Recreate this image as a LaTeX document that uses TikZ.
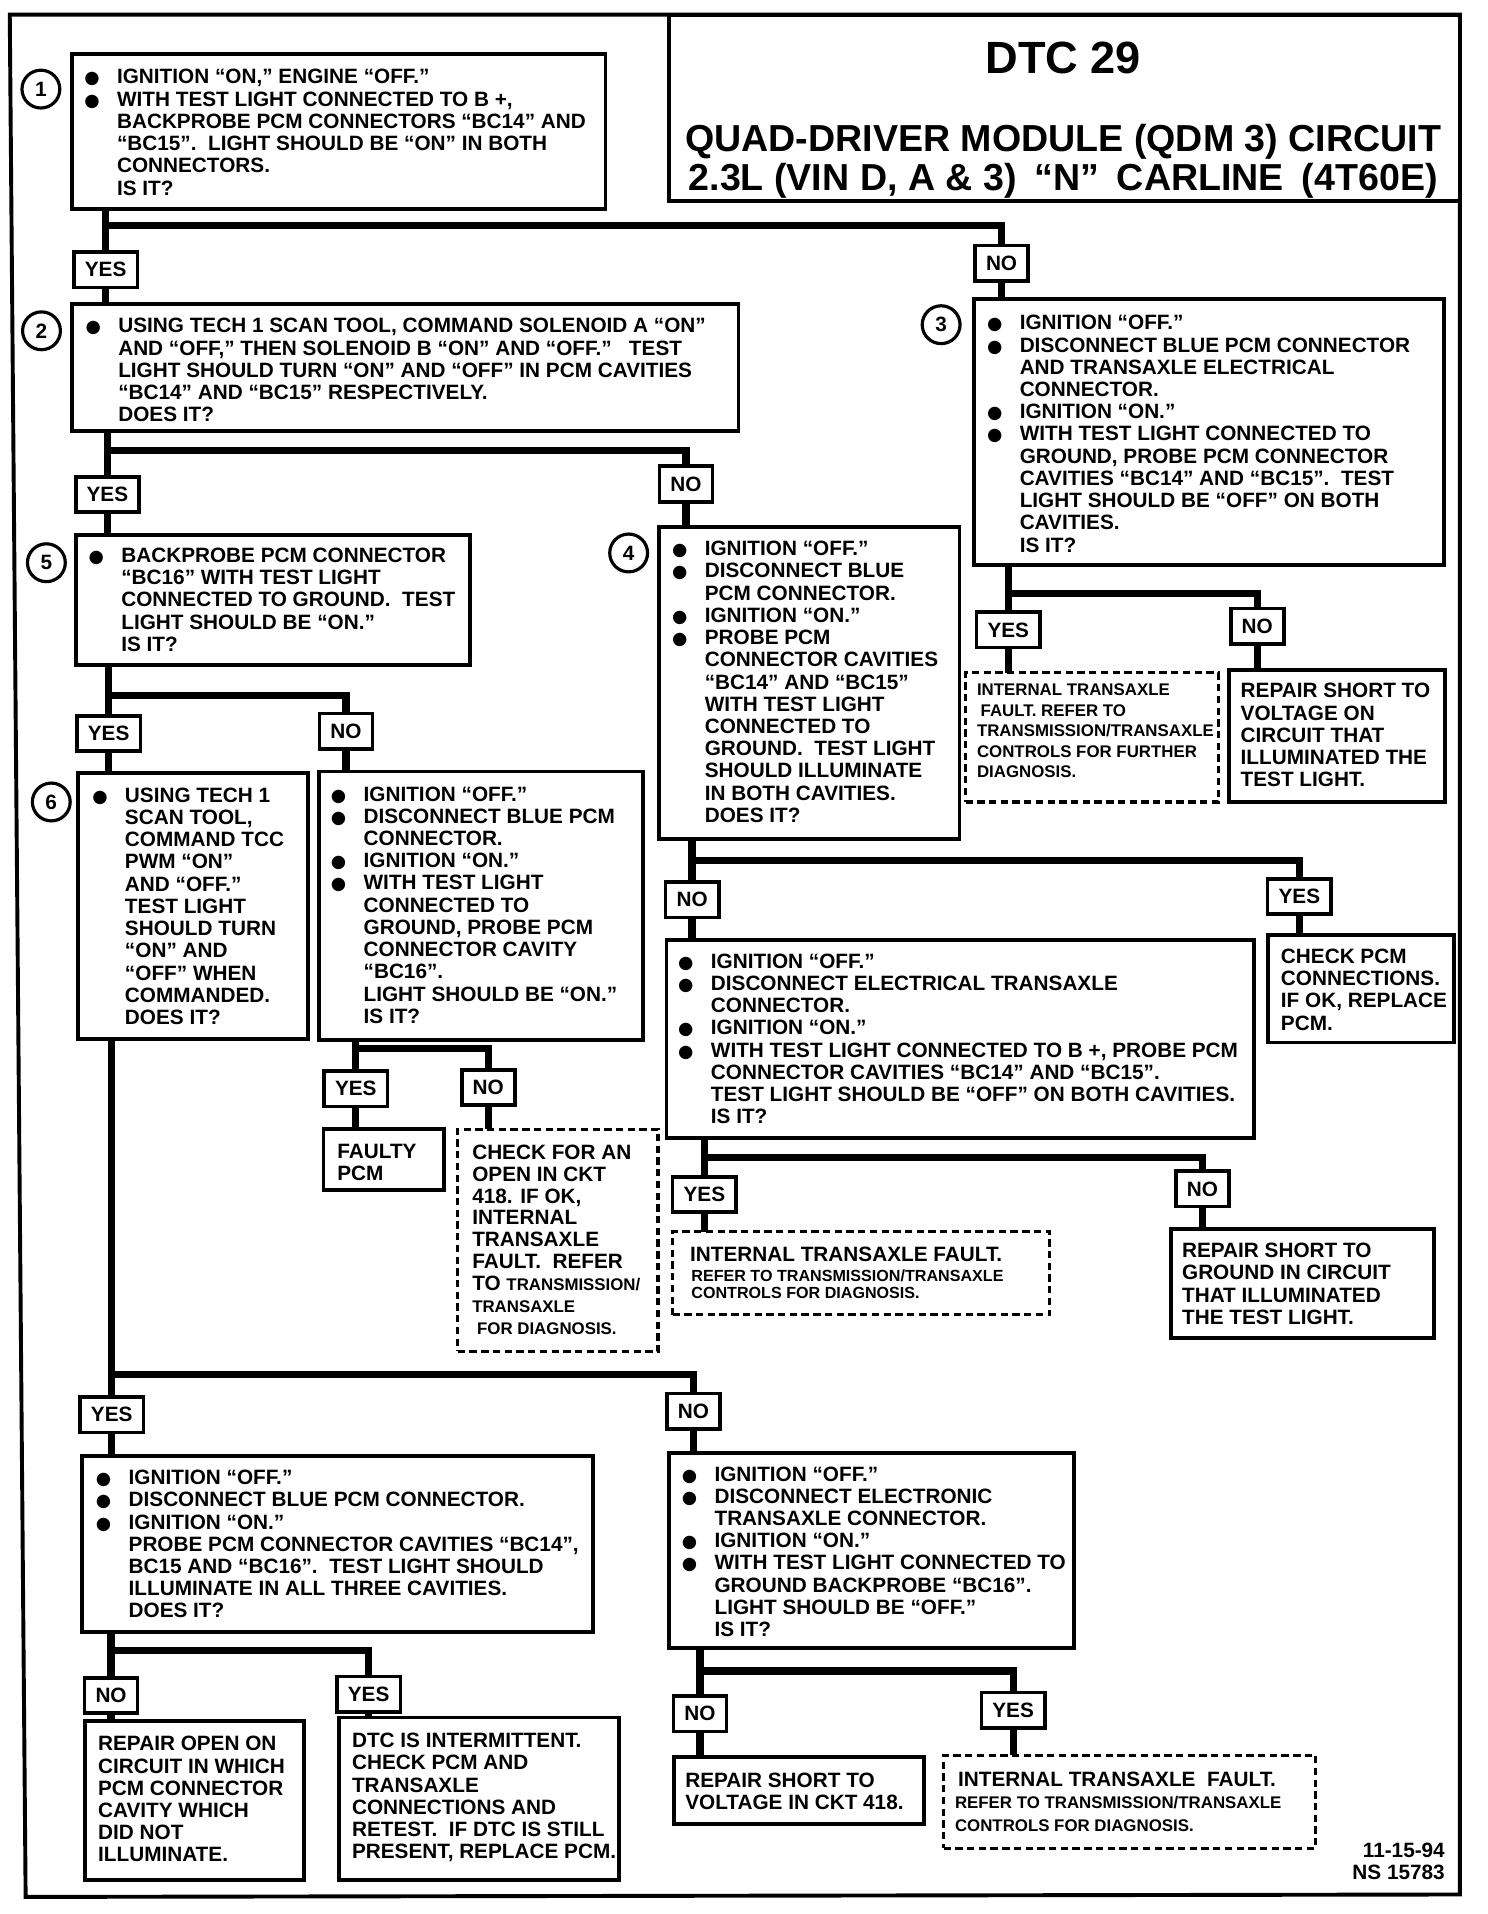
\documentclass[tikz,border=0pt]{standalone}
\usepackage{fontspec}
\setmainfont{Liberation Sans}
\newfontfamily\dejavu{DejaVu Sans}
\usetikzlibrary{calc}
\pgfdeclarelayer{bg}
\pgfsetlayers{bg,main}
\newcommand\mf{\fontsize{8.5}{9.1}\selectfont\bfseries}
\newcommand\smf{\fontsize{6.9}{8.4}\selectfont\bfseries}
\newcommand\bul{\makebox[14pt][l]{\hspace{0.6pt}{\dejavu\fontsize{7.2}{7.5}\selectfont ●}}}
\newcommand\cnt{\hspace*{14pt}}
\newcommand\mkbox[6][]{\node[boxst,#1,anchor=north west,minimum width={(#5-#3)*0.5pt},minimum height={(#6-#4)*0.5pt}] (#2) at (#3,#4) {};}
\newcommand\branch[7]{%
  \coordinate (#4) at (0,#7);
  \draw[conn] (#1.south -| #2) -- (#2.north);
  \draw[conn] (#2 |- #4) -| (#3.north);
  \draw[conn] (#2.south) -- (#2 |- #5.north);
  \draw[conn] (#3.south) -- (#3 |- #6.north);}
\tikzset{
 boxst/.style={draw, line width=1.6pt, fill=white, inner sep=0pt, outer sep=0pt},
 dbox/.style={dash pattern=on 3pt off 1.8pt, line width=1.3pt},
 lbl/.style={draw, line width=1.5pt, fill=white, font=\mf, inner xsep=4.5pt, inner ysep=0pt, minimum height=14.5pt, outer sep=0pt},
 num/.style={draw, circle, line width=1.3pt, minimum size=15.5pt, inner sep=0pt, fill=white, font=\fontsize{8.5}{9}\selectfont\bfseries},
 tx/.style={anchor=north west, inner sep=0pt, align=left, font=\mf},
 stx/.style={anchor=north west, inner sep=0pt, align=left, font=\smf},
 conn/.style={line width=3pt},
 frame/.style={line width=1.6pt, line join=miter},
}
\begin{document}
\begin{tikzpicture}[x=0.5pt,y=-0.5pt]
\begin{pgfonlayer}{bg}
\fill[white] (0,0) rectangle (1219,1568);
\end{pgfonlayer}
\useasboundingbox (0,0) rectangle (1219,1568);
\draw[frame] (8,12) -- (1196,12) -- (1196,1552) -- (21,1554) -- cycle;

% title
\mkbox{title}{548}{12}{1196}{165}
\node[font=\fontsize{18.5}{20}\selectfont\bfseries, anchor=base, inner sep=0pt] (tdtc) at (871,60) {DTC 29};
\node[font=\fontsize{15.4}{16}\selectfont\bfseries, anchor=base, inner sep=0pt] (tl1) at (871,124) {QUAD-DRIVER MODULE (QDM 3) CIRCUIT};
\node[font=\fontsize{15.4}{16}\selectfont\bfseries, anchor=base, inner sep=0pt] (tl2) at (871,156) {2.3L (VIN D, A \& 3)\hspace{3pt} “N”\hspace{3pt} CARLINE\hspace{3pt} (4T60E)};

% boxes
\mkbox{b1}{59}{44}{496}{171}
\mkbox{b2}{59}{249}{605}{353}
\mkbox{b3}{798}{245}{1183}{463}
\mkbox{b4}{540}{432}{786}{687}
\mkbox{b5}{62}{438}{385}{545}
\mkbox{b6}{64}{633}{252}{851}
\mkbox{b5n}{261}{632}{527}{852}
\mkbox{b7}{546}{770}{1027}{932}
\mkbox{b8}{67}{1193}{486}{1337}
\mkbox{b9}{548}{1190}{880}{1350}
\mkbox{fpcm}{265}{925}{364}{975}
\mkbox[dbox]{dck}{375}{925}{539}{1107}
\mkbox[dbox]{d3}{791}{551}{998}{657}
\mkbox{r3}{1007}{549}{1184}{657}
\mkbox{cpcm}{1039}{766}{1191}{854}
\mkbox[dbox]{d7}{551}{1009}{860}{1077}
\mkbox{r7}{959}{1007}{1175}{1096}
\mkbox{r8}{70}{1410}{249}{1540}
\mkbox{dtc}{278}{1407}{507}{1540}
\mkbox{r9}{552}{1439}{757}{1494}
\mkbox[dbox]{d9}{773}{1438}{1078}{1514}

% step numbers
\node[num] (c1) at (33.5,73) {1};
\node[num] (c2) at (34,271) {2};
\node[num] (c3) at (771,266) {3};
\node[num] (c4) at (515,453) {4};
\node[num] (c5) at (38,461) {5};
\node[num] (c6) at (42,657) {6};

% labels
\node[lbl] (yes1) at (86.5,221) {YES};
\node[lbl] (no1) at (820.5,215.5) {NO};
\node[lbl] (yes2) at (88,405) {YES};
\node[lbl] (no2) at (562,396.5) {NO};
\node[lbl] (yes3) at (826,516) {YES};
\node[lbl] (no3) at (1030,513) {NO};
\node[lbl] (yes5) at (89,601) {YES};
\node[lbl] (no5) at (283.5,599) {NO};
\node[lbl] (yes5n) at (291.5,892) {YES};
\node[lbl] (no5n) at (400,891) {NO};
\node[lbl] (no4) at (567,737) {NO};
\node[lbl] (yes4) at (1064.5,734.5) {YES};
\node[lbl] (yes7) at (577,978.5) {YES};
\node[lbl] (no7) at (985,974) {NO};
\node[lbl] (yes6) at (91.5,1159) {YES};
\node[lbl] (no6) at (568,1156) {NO};
\node[lbl] (no8) at (91,1389) {NO};
\node[lbl] (yes8) at (302,1388) {YES};
\node[lbl] (no9) at (573.5,1404) {NO};
\node[lbl] (yes9) at (830,1401) {YES};

% texts
\node[tx] (b1t) at (67.5,56.5) {\bul IGNITION “ON,” ENGINE “OFF.”\\
\bul WITH TEST LIGHT CONNECTED TO B +,\\
\cnt BACKPROBE PCM CONNECTORS “BC14” AND\\
\cnt “BC15”.\ \ LIGHT SHOULD BE “ON” IN BOTH\\
\cnt CONNECTORS.\\
\cnt IS IT?};
\node[tx] (b2t) at (68.5,260.5) {\bul USING TECH 1 SCAN TOOL, COMMAND SOLENOID A “ON”\\
\cnt AND “OFF,” THEN SOLENOID B “ON” AND “OFF.”\ \ \ TEST\\
\cnt LIGHT SHOULD TURN “ON” AND “OFF” IN PCM CAVITIES\\
\cnt “BC14” AND “BC15” RESPECTIVELY.\\
\cnt DOES IT?};
\node[tx] (b3t) at (807,258) {\bul IGNITION “OFF.”\\
\bul DISCONNECT BLUE PCM CONNECTOR\\
\cnt AND TRANSAXLE ELECTRICAL\\
\cnt CONNECTOR.\\
\bul IGNITION “ON.”\\
\bul WITH TEST LIGHT CONNECTED TO\\
\cnt GROUND, PROBE PCM CONNECTOR\\
\cnt CAVITIES “BC14” AND “BC15”.\ \ TEST\\
\cnt LIGHT SHOULD BE “OFF” ON BOTH\\
\cnt CAVITIES.\\
\cnt IS IT?};
\node[tx] (b4t) at (549,443) {\bul IGNITION “OFF.”\\
\bul DISCONNECT BLUE\\
\cnt PCM CONNECTOR.\\
\bul IGNITION “ON.”\\
\bul PROBE PCM\\
\cnt CONNECTOR CAVITIES\\
\cnt “BC14” AND “BC15”\\
\cnt WITH TEST LIGHT\\
\cnt CONNECTED TO\\
\cnt GROUND.\ \ TEST LIGHT\\
\cnt SHOULD ILLUMINATE\\
\cnt IN BOTH CAVITIES.\\
\cnt DOES IT?};
\node[tx] (b5t) at (71,448.5) {\bul BACKPROBE PCM CONNECTOR\\
\cnt “BC16” WITH TEST LIGHT\\
\cnt CONNECTED TO GROUND.\ \ TEST\\
\cnt LIGHT SHOULD BE “ON.”\\
\cnt IS IT?};
\node[tx] (b6t) at (74,645) {\bul USING TECH 1\\
\cnt SCAN TOOL,\\
\cnt COMMAND TCC\\
\cnt PWM “ON”\\
\cnt AND “OFF.”\\
\cnt TEST LIGHT\\
\cnt SHOULD TURN\\
\cnt “ON” AND\\
\cnt “OFF” WHEN\\
\cnt COMMANDED.\\
\cnt DOES IT?};
\node[tx] (b5nt) at (269.5,644) {\bul IGNITION “OFF.”\\
\bul DISCONNECT BLUE PCM\\
\cnt CONNECTOR.\\
\bul IGNITION “ON.”\\
\bul WITH TEST LIGHT\\
\cnt CONNECTED TO\\
\cnt GROUND, PROBE PCM\\
\cnt CONNECTOR CAVITY\\
\cnt “BC16”.\\
\cnt LIGHT SHOULD BE “ON.”\\
\cnt IS IT?};
\node[tx] (b7t) at (554,781) {\bul IGNITION “OFF.”\\
\bul DISCONNECT ELECTRICAL TRANSAXLE\\
\cnt CONNECTOR.\\
\bul IGNITION “ON.”\\
\bul WITH TEST LIGHT CONNECTED TO B +, PROBE PCM\\
\cnt CONNECTOR CAVITIES “BC14” AND “BC15”.\\
\cnt TEST LIGHT SHOULD BE “OFF” ON BOTH CAVITIES.\\
\cnt IS IT?};
\node[tx] (b8t) at (77,1204) {\bul IGNITION “OFF.”\\
\bul DISCONNECT BLUE PCM CONNECTOR.\\
\bul IGNITION “ON.”\\
\cnt PROBE PCM CONNECTOR CAVITIES “BC14”,\\
\cnt BC15 AND “BC16”.\ \ TEST LIGHT SHOULD\\
\cnt ILLUMINATE IN ALL THREE CAVITIES.\\
\cnt DOES IT?};
\node[tx] (b9t) at (557,1201) {\bul IGNITION “OFF.”\\
\bul DISCONNECT ELECTRONIC\\
\cnt TRANSAXLE CONNECTOR.\\
\bul IGNITION “ON.”\\
\bul WITH TEST LIGHT CONNECTED TO\\
\cnt GROUND BACKPROBE “BC16”.\\
\cnt LIGHT SHOULD BE “OFF.”\\
\cnt IS IT?};
\node[tx] (fpcmt) at (276,937) {FAULTY\\PCM};
\node[tx, font=\fontsize{8.5}{8.95}\selectfont\bfseries] (dckt) at (386.5,937.5) {CHECK FOR AN\\
OPEN IN CKT\\
418. IF OK,\\
INTERNAL\\
TRANSAXLE\\
FAULT.\ \ REFER\\
TO {\smf TRANSMISSION/}\\
{\smf TRANSAXLE}\\
{\smf\hspace*{2pt}FOR DIAGNOSIS.}};
\node[tx] (r3t) at (1016,559.5) {REPAIR SHORT TO\\VOLTAGE ON\\CIRCUIT THAT\\ILLUMINATED THE\\TEST LIGHT.};
\node[stx] (d3t) at (800,560) {INTERNAL TRANSAXLE\\
\hspace*{1.5pt}FAULT. REFER TO\\
TRANSMISSION/TRANSAXLE\\
CONTROLS FOR FURTHER\\
DIAGNOSIS.};
\node[tx] (cpcmt) at (1049,777) {CHECK PCM\\CONNECTIONS.\\IF OK, REPLACE\\PCM.};
\node[tx] (r7t) at (968,1018) {REPAIR SHORT TO\\GROUND IN CIRCUIT\\THAT ILLUMINATED\\THE TEST LIGHT.};
\node[tx] (d7a) at (565,1021) {INTERNAL TRANSAXLE FAULT.};
\node[stx, font=\fontsize{6.6}{7.3}\selectfont\bfseries] (d7b) at (566,1039.5) {REFER TO TRANSMISSION/TRANSAXLE\\CONTROLS FOR DIAGNOSIS.};
\node[tx] (r8t) at (80,1422) {REPAIR OPEN ON\\CIRCUIT IN WHICH\\PCM CONNECTOR\\CAVITY WHICH\\DID NOT\\ILLUMINATE.};
\node[tx] (dtct) at (288,1419.5) {DTC IS INTERMITTENT.\\CHECK PCM AND\\TRANSAXLE\\CONNECTIONS AND\\RETEST.\ \ IF DTC IS STILL\\PRESENT, REPLACE PCM.};
\node[tx] (r9t) at (561,1452) {REPAIR SHORT TO\\VOLTAGE IN CKT 418.};
\node[tx] (d9a) at (784.5,1451) {INTERNAL TRANSAXLE\ \ FAULT.};
\node[stx, font=\fontsize{6.9}{9.5}\selectfont\bfseries] (d9b) at (782,1471) {REFER TO TRANSMISSION/TRANSAXLE\\CONTROLS FOR DIAGNOSIS.};
\node[tx, anchor=north east, align=right, font=\fontsize{8.5}{8.8}\selectfont\bfseries] (foot) at (1184,1509.5) {11-15-94\\NS 15783};

% connectors
\begin{pgfonlayer}{bg}
\branch{b1}{yes1}{no1}{j1}{b2}{b3}{185}
\branch{b2}{yes2}{no2}{j2}{b5}{b4}{369}
\branch{b3}{yes3}{no3}{j3}{d3}{r3}{486}
\branch{b5}{yes5}{no5}{j5}{b6}{b5n}{570}
\branch{b5n}{yes5n}{no5n}{j5n}{fpcm}{dck}{859}
\branch{b4}{no4}{yes4}{j4}{b7}{cpcm}{705}
\branch{b7}{yes7}{no7}{j7}{d7}{r7}{948}
\branch{b6}{yes6}{no6}{j6}{b8}{b9}{1126}
\branch{b8}{no8}{yes8}{j8}{r8}{dtc}{1352}
\branch{b9}{no9}{yes9}{j9}{r9}{d9}{1369}
\end{pgfonlayer}
\end{tikzpicture}
\end{document}
